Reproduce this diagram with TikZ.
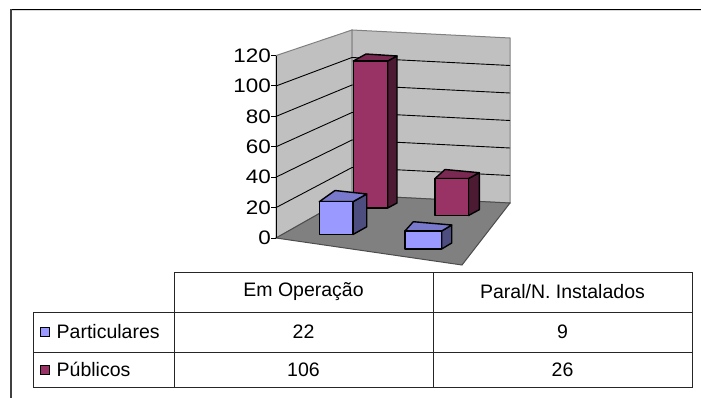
\documentclass[tikz,border=0pt]{standalone}
\usepackage{fontspec}
\setmainfont{Liberation Sans}
\usetikzlibrary{positioning}
\definecolor{blueface}{HTML}{9999FF}
\definecolor{bluetop}{HTML}{7878CC}
\definecolor{blueside}{HTML}{4D4D80}
\definecolor{redface}{HTML}{993366}
\definecolor{redtop}{HTML}{7A2952}
\definecolor{redside}{HTML}{4D1A33}
\definecolor{wallgray}{HTML}{C0C0C0}
\definecolor{floorgray}{HTML}{808080}
\newcommand{\cubebar}[9]{%
  \filldraw[bar edge, fill=#1side] (#3,#4) -- (#8,#9) -- (#8,{#9+#5-#4}) -- (#3,#5) -- cycle;
  \filldraw[bar edge, fill=#1top] (#2,#4) -- (#6,#7) -- (#8,#9) -- (#3,#4) -- cycle;
  \filldraw[bar edge, fill=#1face] (#2,#4) rectangle (#3,#5);}
\begin{document}
\begin{tikzpicture}[x=1pt, y=-1pt,
  every node/.style={font=\fontsize{19.5}{23}\selectfont, inner sep=0pt},
  bar edge/.style={draw=black, line width=1.4pt, line join=round},
  wall/.style={fill=wallgray, draw=floorgray, line width=1pt},
  grid line/.style={black, line width=0.9pt},
  tick label/.style={anchor=east, xscale=1.15},
  cell line/.style={draw=black!85, line width=1pt},
  legend key/.style={draw=black, line width=1pt, minimum size=9pt}]
  \useasboundingbox (0,0) rectangle (701,398);
  \draw[black, line width=1pt] (10,9.5) -- (701,9.5);
  \draw[black!15, line width=1pt] (12,10.7) -- (701,10.7);
  \draw[black!75, line width=1.2pt] (11,9.5) -- (11,398);
  % walls and floor
  \filldraw[wall] (276,238) -- (276,55.6) -- (352,30) -- (352,195) -- cycle;
  \filldraw[wall] (352,195) -- (352,30) -- (510,38) -- (510,203) -- cycle;
  \foreach \v in {20,40,...,100} {
    \draw[grid line] (276,{238-\v*1.52}) -- (352,{195-\v*1.375}) -- (510,{203-\v*1.375});
  }
  \filldraw[fill=floorgray, draw=black!70, line width=1pt] (276,238) -- (352,195) -- (510,203) -- (462,265) -- cycle;
  \draw[black, line width=1pt] (276,238) -- (276,55.6);
  \foreach \v in {0,20,...,120} {
    \node[tick label] (y\v) at (271,{238-\v*1.52}) {\v};
    \draw[black, line width=1pt] (y\v.east) -- (276,{238-\v*1.52});
  }
  % bars, back row first
  \cubebar{red}{353.3}{387.7}{61}{208}{366}{54}{397}{56}
  \cubebar{red}{435}{468.5}{178.5}{215.5}{445}{169.5}{479.3}{172.7}
  \cubebar{blue}{319.3}{353}{201.7}{234.5}{335}{190.5}{366.7}{194}
  \cubebar{blue}{405}{441.7}{231}{249}{413.3}{221.7}{451.7}{225}
  % data table
  \draw[cell line] (174,272) rectangle (692,387);
  \draw[cell line] (33,312) rectangle (174,387);
  \draw[cell line] (33,312) -- (692,312) (33,352) -- (692,352) (433,272) -- (433,387);
  \node (colA) at (303.5,292) {Em Operação};
  \node (colB) at (562.5,292) {Paral/N. Instalados};
  \node[legend key, fill=blueface] (keyP) at (44.5,332) {};
  \node[right=7pt of keyP] (rowP) {Particulares};
  \node[legend key, fill=redface] (keyQ) at (44.5,369.5) {};
  \node[right=7pt of keyQ] (rowQ) {Públicos};
  \node (valPA) at (303.5,332) {22};
  \node (valPB) at (562.5,332) {9};
  \node (valQA) at (303.5,369.5) {106};
  \node (valQB) at (562.5,369.5) {26};
\end{tikzpicture}
\end{document}
